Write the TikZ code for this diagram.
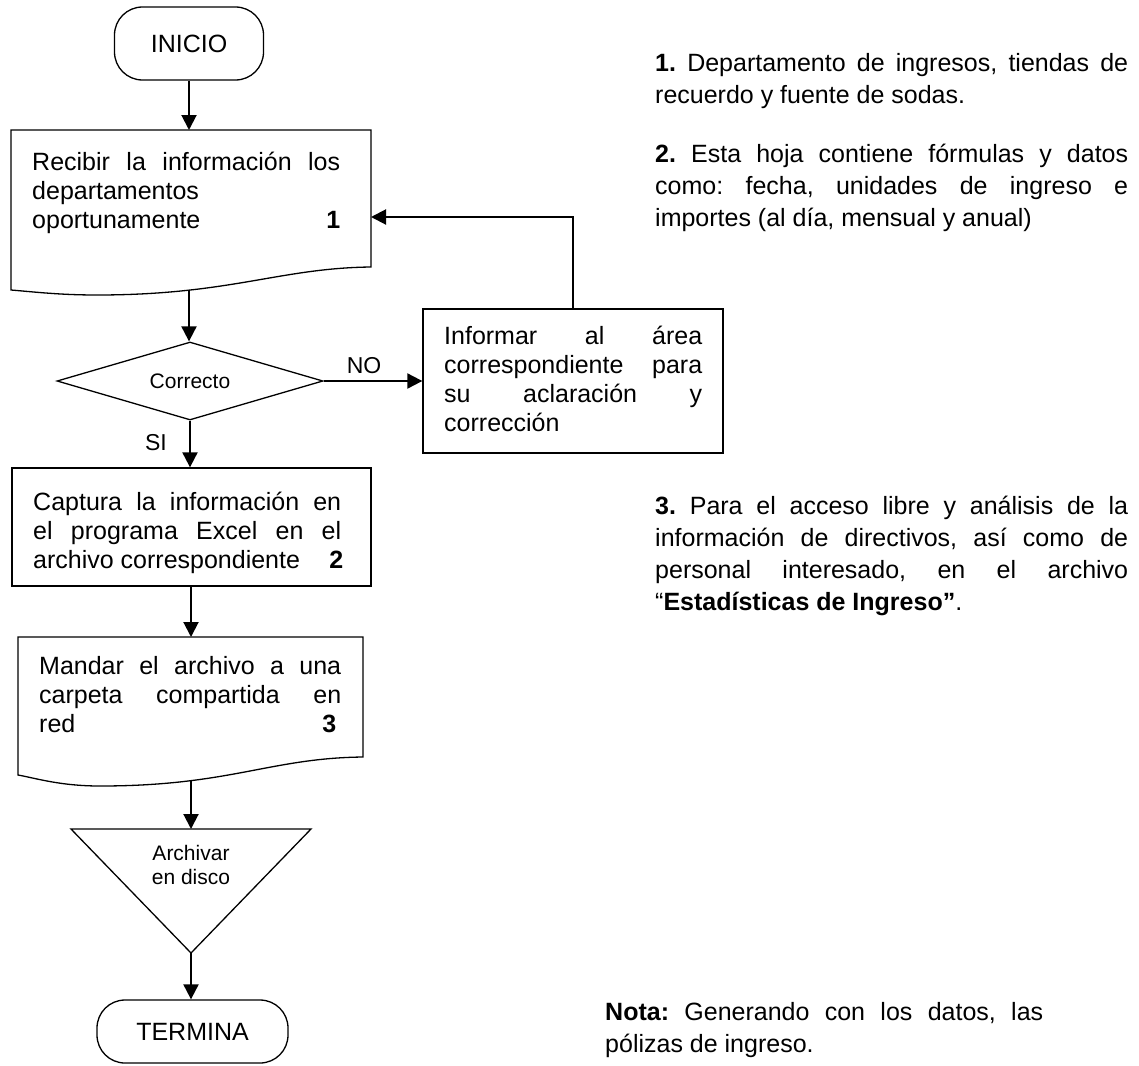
\documentclass[tikz,border=0pt]{standalone}
\usepackage{fontspec}
\setmainfont{Liberation Sans}
\usetikzlibrary{shapes.geometric,arrows.meta}
\newcommand\nsp{\spaceskip=0pt\relax\xspaceskip=0pt\relax\frenchspacing}
\newcommand\J[2]{{\nsp\makebox[#1][s]{#2}}}
\begin{document}
\frenchspacing
\begin{tikzpicture}[x=1pt,y=-1pt,
  outline/.style={draw=black,line width=1.3pt},
  conn/.style={draw=black,line width=2pt,-{Triangle[length=15pt,width=15pt]}},
  boxtxt/.style={anchor=base west,inner sep=0pt,align=left,font=\fontsize{25}{29}\selectfont},
  note/.style={anchor=base west,inner sep=0pt,align=left,text width=473pt,font=\fontsize{25}{32}\selectfont},
  lbl/.style={inner sep=0pt,font=\fontsize{23}{26}\selectfont},
  small/.style={inner sep=0pt,align=center,font=\fontsize{21}{24}\selectfont},
  term/.style={outline,rounded corners=28pt,inner sep=0pt,font=\fontsize{25}{29}\selectfont},
]
\path[use as bounding box,fill=white] (0,0) rectangle (1139,1065);

% start
\node[term,minimum width=149pt,minimum height=73pt] (ini) at (189,43.5) {INICIO};

% document 1
\draw[outline] (11,130) -- (371,130) -- (371,267)
  .. controls (280,268) and (230,295) .. (97,295)
  .. controls (60,295) and (35,292) .. (11,290) -- cycle;
\coordinate (d1top) at (189,130);
\coordinate (d1bot) at (189,290);
\coordinate (d1r) at (371,217);
\node[boxtxt,text width=308pt] (t1) at (32,170.5)
  {\nsp\J{308pt}{Recibir la información los}\\departamentos\\\hbox to 308pt{oportunamente\hfill\textbf{1}}};

% decision
\node[outline,diamond,aspect=3.4,minimum width=266pt,minimum height=78pt,inner sep=0pt,
  font=\fontsize{21}{24}\selectfont] (dec) at (190,381) {Correcto};
\node[lbl] (no) at (364,366) {NO};
\node[lbl] (si) at (156,443) {SI};

% informar
\node[outline,minimum width=300pt,minimum height=144pt,inner sep=0pt] (inf) at (573,381) {};
\node[boxtxt,text width=258pt] (inft) at (444,344.5)
  {\nsp\J{258pt}{Informar al área}\\\J{258pt}{correspondiente para}\\\J{258pt}{su aclaración y}\\corrección};

% captura
\node[outline,minimum width=359pt,minimum height=118pt,inner sep=0pt] (cap) at (191.5,527) {};
\node[boxtxt,text width=310pt] (capt) at (33,510.5)
  {\nsp\J{308pt}{Captura la información en}\\\J{308pt}{el programa Excel en el}\\\hbox to 310pt{archivo correspondiente\hfill\textbf{2}}};

% document 2
\draw[outline] (18,637) -- (363,637) -- (363,757)
  .. controls (270,758) and (230,786) .. (100,786)
  .. controls (60,786) and (35,778) .. (18,775) -- cycle;
\coordinate (d2top) at (191,637);
\coordinate (d2bot) at (191,781);
\node[boxtxt,text width=302pt] (t2) at (39,674.5)
  {\nsp\J{302pt}{Mandar el archivo a una}\\\J{302pt}{carpeta compartida en}\\\hbox to 302pt{red\hfill\textbf{3}\hspace{5pt}}};

% archive triangle
\draw[outline] (71,829) -- (311,829) -- (191,953) -- cycle;
\coordinate (tritop) at (191,829);
\coordinate (triapex) at (191,953);
\node[small] (trit) at (191,865) {Archivar\\en disco};

% end
\node[term,minimum width=191pt,minimum height=63pt] (ter) at (192.5,1031.5) {TERMINA};

% connectors
\draw[conn] (ini.south) -- (d1top);
\draw[conn] (d1bot) -- (d1bot |- dec.north);
\draw[conn] (dec.east) -- (inf.west);
\draw[conn] (inf.north) |- (d1r);
\draw[conn] (dec.south) -- (dec.south |- cap.north);
\draw[conn] (d2top |- cap.south) -- (d2top);
\draw[conn] (d2bot) -- (tritop);
\draw[conn] (triapex) -- (triapex |- ter.north);

% notes
\node[note] (n1) at (655,71.5)
  {\nsp\J{473pt}{\textbf{1.} Departamento de ingresos, tiendas de}\\recuerdo y fuente de sodas.};
\node[note] (n2) at (655,162.5)
  {\nsp\J{473pt}{\textbf{2.} Esta hoja contiene fórmulas y datos}\\\J{473pt}{como: fecha, unidades de ingreso e}\\importes (al día, mensual y anual)};
\node[note] (n3) at (655,514.5)
  {\nsp\J{473pt}{\textbf{3.} Para el acceso libre y análisis de la}\\\J{473pt}{información de directivos, así como de}\\\J{473pt}{personal interesado, en el archivo}\\“\textbf{Estadísticas de Ingreso”}.};
\node[note,text width=438pt] (n4) at (605,1020.5)
  {\nsp\J{438pt}{\textbf{Nota:} Generando con los datos, las}\\pólizas de ingreso.};
\end{tikzpicture}
\end{document}
